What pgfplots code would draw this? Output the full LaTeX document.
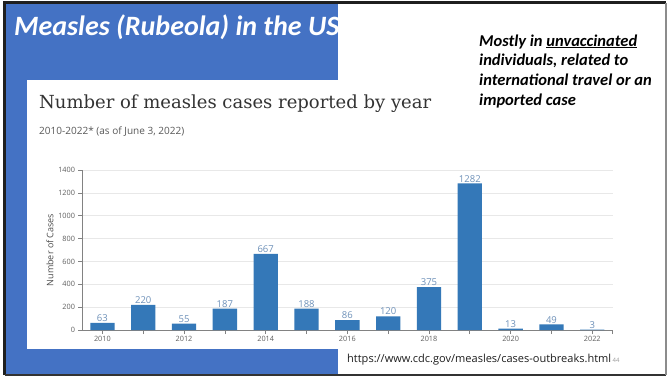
\documentclass[border=0pt]{standalone}
\usepackage{pgfplots}
\pgfplotsset{compat=1.18}
\usepackage{fontspec}
\usepackage{graphicx}
\setmainfont{Open Sans}
\newfontfamily\carlito{Carlito}
\newfontfamily\dvserif{DejaVu Serif}
\definecolor{officeblue}{RGB}{68,114,196}
\definecolor{barblue}{RGB}{52,120,184}
\definecolor{labelblue}{RGB}{110,145,185}
\definecolor{tickgray}{RGB}{95,95,95}
\definecolor{axisgray}{RGB}{130,130,130}
\definecolor{gridgray}{RGB}{232,232,232}
\begin{document}
\begin{tikzpicture}[x=1pt,y=1pt]
\path[use as bounding box] (0,0) rectangle (670,376);
\fill[white] (0,0) rectangle (670,376);
% blue panel
\fill[officeblue] (6,2) rectangle (338,372);
% white chart box
\fill[white] (27,27) rectangle (338,296);
% slide frame
\draw[black!88, line width=2.5pt] (4.6,1) -- (4.6,373.3) -- (666,373.3);
\draw[black!80, line width=2pt] (4.6,1) -- (666,1);
\draw[black!45, line width=1.5pt] (666,1) -- (666,373.3);
% slide title
\node[anchor=base west, text=white, inner sep=0pt] at (14,341)
  {\carlito\bfseries\itshape\fontsize{28}{30}\selectfont Measles (Rubeola) in the US};
% right-hand note
\begin{scope}[every node/.style={anchor=base west, inner sep=0pt, text=black,
    font=\carlito\bfseries\itshape\fontsize{16.5}{19}\selectfont}]
\node at (479,330) {Mostly in \underline{unvaccinated}};
\node at (479,310.3) {individuals, related to};
\node at (479,290.6) {international travel or an};
\node at (479,270.9) {imported case};
\end{scope}
% chart title and subtitle
\node[anchor=base west, text=black!80, inner sep=0pt] at (39,267.7)
  {\resizebox{392pt}{!}{\dvserif\fontsize{18}{20}\selectfont Number of measles cases reported by year}};
\node[anchor=base west, text=black!65, inner sep=0pt] at (39,241.5)
  {\resizebox{145pt}{!}{\fontsize{9.3}{11}\selectfont 2010-2022* (as of June 3, 2022)}};
% source
\node[anchor=base west, text=black!88, inner sep=0pt] at (347,14)
  {\resizebox{264pt}{!}{\fontsize{11}{13}\selectfont https://www.cdc.gov/measles/cases-outbreaks.html}};
\node[anchor=base west, text=black!40, inner sep=0pt] at (612.5,14)
  {\fontsize{6}{7}\selectfont 44};
\begin{axis}[
  at={(82pt,46pt)}, anchor=south west,
  scale only axis, width=530.7pt, height=160pt,
  xmin=2009.5, xmax=2022.5, ymin=0, ymax=1400,
  axis x line=bottom, axis y line=left,
  axis line style={-, draw=axisgray, line width=0.8pt},
  tick align=outside, major tick length=4pt,
  tick style={draw=axisgray, line width=0.7pt},
  xtick={2010,2011,...,2022},
  xticklabels={2010,,2012,,2014,,2016,,2018,,2020,,2022},
  extra x ticks={2022.5}, extra x tick labels={},
  extra x tick style={grid=none},
  ytick={0,200,...,1400},
  ymajorgrids, grid style={draw=gridgray, line width=0.7pt},
  /pgf/number format/assume math mode=true,
  /pgf/number format/1000 sep={},
  ticklabel style={font=\fontsize{7.3}{8}\selectfont, text=tickgray},
  xticklabel style={yshift=1pt},
  yticklabel style={xshift=0.5pt},
  ylabel={Number of Cases},
  every axis y label/.style={at={(axis description cs:-0.0603,0.5)}, rotate=90, anchor=center,
     font=\fontsize{9}{10}\selectfont, text=black!70},
  ybar, bar width=24.3pt,
  nodes near coords,
  every node near coord/.append style={font=\fontsize{9.5}{10}\selectfont,
     text=labelblue, anchor=south, inner sep=1pt},
  clip=false,
]
\addplot[fill=barblue, draw=none] coordinates {
  (2010,63) (2011,220) (2012,55) (2013,187) (2014,667) (2015,188)
  (2016,86) (2017,120) (2018,375) (2019,1282) (2020,13) (2021,49) (2022,3)
};
\end{axis}
\end{tikzpicture}
\end{document}
